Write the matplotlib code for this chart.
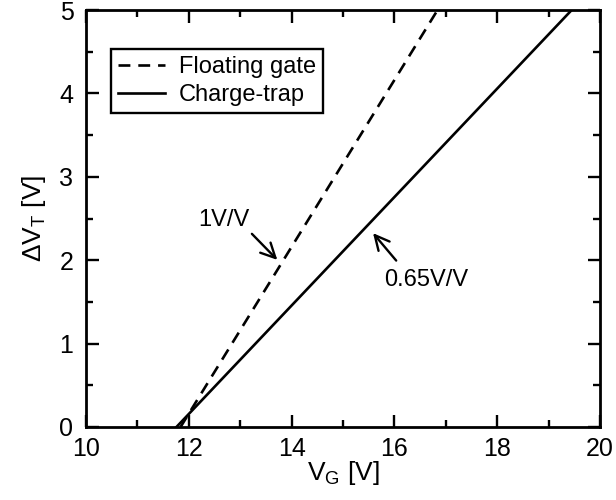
import matplotlib
matplotlib.use('Agg')
import matplotlib.pyplot as plt
from matplotlib.ticker import MultipleLocator

plt.rcParams['font.family'] = ['Liberation Sans', 'DejaVu Sans']
plt.rcParams['mathtext.fontset'] = 'custom'
plt.rcParams['mathtext.rm'] = 'Liberation Sans'
plt.rcParams['mathtext.it'] = 'Liberation Sans'

# data
fg_vg = [11.84, 16.84]
fg_dvt = [0, 5]
ct_vg = [11.76, 19.45]
ct_dvt = [0, 5]

fig = plt.figure(figsize=(6.16, 5.0), dpi=100)
ax = fig.add_axes([0.1396, 0.146, 0.8344, 0.834])

ax.plot(fg_vg, fg_dvt, color='black', lw=1.9, ls=(0, (4.5, 3)), label='Floating gate')
ax.plot(ct_vg, ct_dvt, color='black', lw=1.9, label='Charge-trap')

# slope annotations
arrow = dict(arrowstyle='->', color='black', lw=1.7, mutation_scale=26)
ax.annotate('', xy=(13.76, 1.98), xytext=(13.19, 2.34), arrowprops=arrow)
ax.text(12.68, 2.48, '1V/V', fontsize=17, ha='center', va='center')
ax.annotate('', xy=(15.55, 2.35), xytext=(16.07, 1.97), arrowprops=arrow)
ax.text(16.62, 1.76, '0.65V/V', fontsize=17, ha='center', va='center')

ax.set_xlim(10, 20)
ax.set_ylim(0, 5)
ax.xaxis.set_major_locator(MultipleLocator(2))
ax.xaxis.set_minor_locator(MultipleLocator(1))
ax.yaxis.set_major_locator(MultipleLocator(1))
ax.yaxis.set_minor_locator(MultipleLocator(0.5))
ax.tick_params(which='both', direction='in', top=True, right=True, width=1.7, labelsize=18)
ax.tick_params(which='major', length=9)
ax.tick_params(which='minor', length=5)
ax.tick_params(axis='x', which='major', pad=7)
ax.tick_params(axis='y', which='major', pad=9)
for s in ax.spines.values():
    s.set_linewidth(2)

ax.set_xlabel('V$_\\mathrm{G}$ [V]', fontsize=19, labelpad=-1)
ax.set_ylabel('$\\Delta$V$_\\mathrm{T}$ [V]', fontsize=19, labelpad=8)

leg = ax.legend(loc='upper left', bbox_to_anchor=(0.025, 0.935), fontsize=17,
                fancybox=False, edgecolor='black', framealpha=1,
                handlelength=2.0, borderpad=0.3, labelspacing=0.25, handletextpad=0.6)
leg.get_frame().set_linewidth(1.7)

fig.savefig('out.png', dpi=100)
